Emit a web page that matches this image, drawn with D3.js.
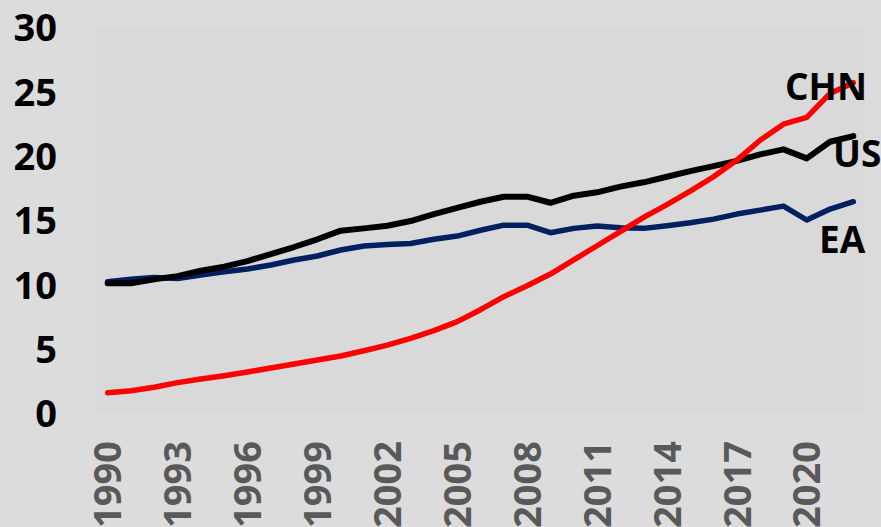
<!DOCTYPE html>
<html><head><meta charset="utf-8">
<script src="https://cdn.jsdelivr.net/npm/d3@7"></script>
<style>body{margin:0;background:#dcdcdc;}svg{display:block;}</style>
</head><body><svg id="c" width="881" height="527"></svg>
<script>
const years = d3.range(1990, 2023);
const xTickYears = [1990,1993,1996,1999,2002,2005,2008,2011,2014,2017,2020];
const yTicks = [0,5,10,15,20,25,30];
const usValues = [10.08,10.08,10.4,10.64,11.06,11.37,11.81,12.35,12.9,13.5,14.17,14.35,14.55,14.92,15.46,15.95,16.42,16.81,16.81,16.34,16.89,17.15,17.59,17.93,18.36,18.8,19.19,19.6,20.1,20.49,19.79,21.08,21.52];
const eaValues = [10.2,10.39,10.54,10.46,10.72,10.98,11.19,11.5,11.89,12.2,12.67,12.98,13.1,13.18,13.5,13.75,14.2,14.6,14.6,14.01,14.35,14.53,14.4,14.35,14.56,14.79,15.07,15.46,15.77,16.08,15.0,15.85,16.42];
const chnValues = [1.58,1.73,2.0,2.36,2.64,2.9,3.19,3.5,3.81,4.12,4.43,4.84,5.28,5.8,6.4,7.1,8.03,9.04,9.89,10.8,11.9,13.0,14.1,15.2,16.2,17.25,18.36,19.66,21.2,22.45,22.97,24.84,25.67];
const seriesNames = ["US","EA","CHN"];
const seriesColors = ["#000000","#002060","#ff0000"];

const svg = d3.select("#c");
const W = 881, H = 527;
const plot = {left:96, right:865, top:27, bottom:413};
svg.append("rect").attr("width",W).attr("height",H).attr("fill","#dcdcdc");
svg.append("rect").attr("x",plot.left).attr("y",plot.top)
  .attr("width",plot.right-plot.left).attr("height",plot.bottom-plot.top).attr("fill","#d9d9d9");

const x = d3.scaleBand().domain(years).range([plot.left, plot.right]).padding(0);
const y = d3.scaleLinear().domain([0,30]).range([plot.bottom, plot.top]);
const cx = d => x(d) + x.bandwidth()/2;

// Y axis
const yAxis = d3.axisLeft(y).tickValues(yTicks).tickSize(0).tickPadding(0);
const gy = svg.append("g").attr("transform","translate(57,0)").call(yAxis);
gy.select(".domain").remove();
gy.selectAll("text").attr("font-family","'Open Sans', sans-serif").attr("font-weight","bold")
  .attr("font-size","38px").attr("fill","#000").attr("dy","0.36em");

// X axis
const xAxis = d3.axisBottom(x).tickValues(xTickYears).tickSize(0).tickPadding(0);
const gx = svg.append("g").attr("transform","translate(0,441)").call(xAxis);
gx.select(".domain").remove();
gx.selectAll("text").attr("font-family","'Open Sans', sans-serif").attr("font-weight","bold")
  .attr("font-size","38px").attr("fill","#595959")
  .attr("transform","rotate(-90)").attr("text-anchor","end")
  .attr("x",0).attr("y",0).attr("dy","0.36em");

const line = d3.line().x((d,i)=>cx(years[i])).y(d=>y(d));
const allSeries = [usValues, eaValues, chnValues];
[1,0,2].forEach(k=>{
  svg.append("path").datum(allSeries[k]).attr("d",line)
    .attr("fill","none").attr("stroke",seriesColors[k])
    .attr("stroke-width", k===0?6:5.5)
    .attr("stroke-linejoin","round").attr("stroke-linecap","round");
});

// Labels
const labelPos = [[833,167],[819,253],[785,100]];
seriesNames.forEach((n,k)=>{
  svg.append("text").attr("x",labelPos[k][0]).attr("y",labelPos[k][1])
    .attr("font-family","'Open Sans', sans-serif").attr("font-weight","bold")
    .attr("font-size","37px").attr("fill","#000").text(n);
});
</script></body></html>
